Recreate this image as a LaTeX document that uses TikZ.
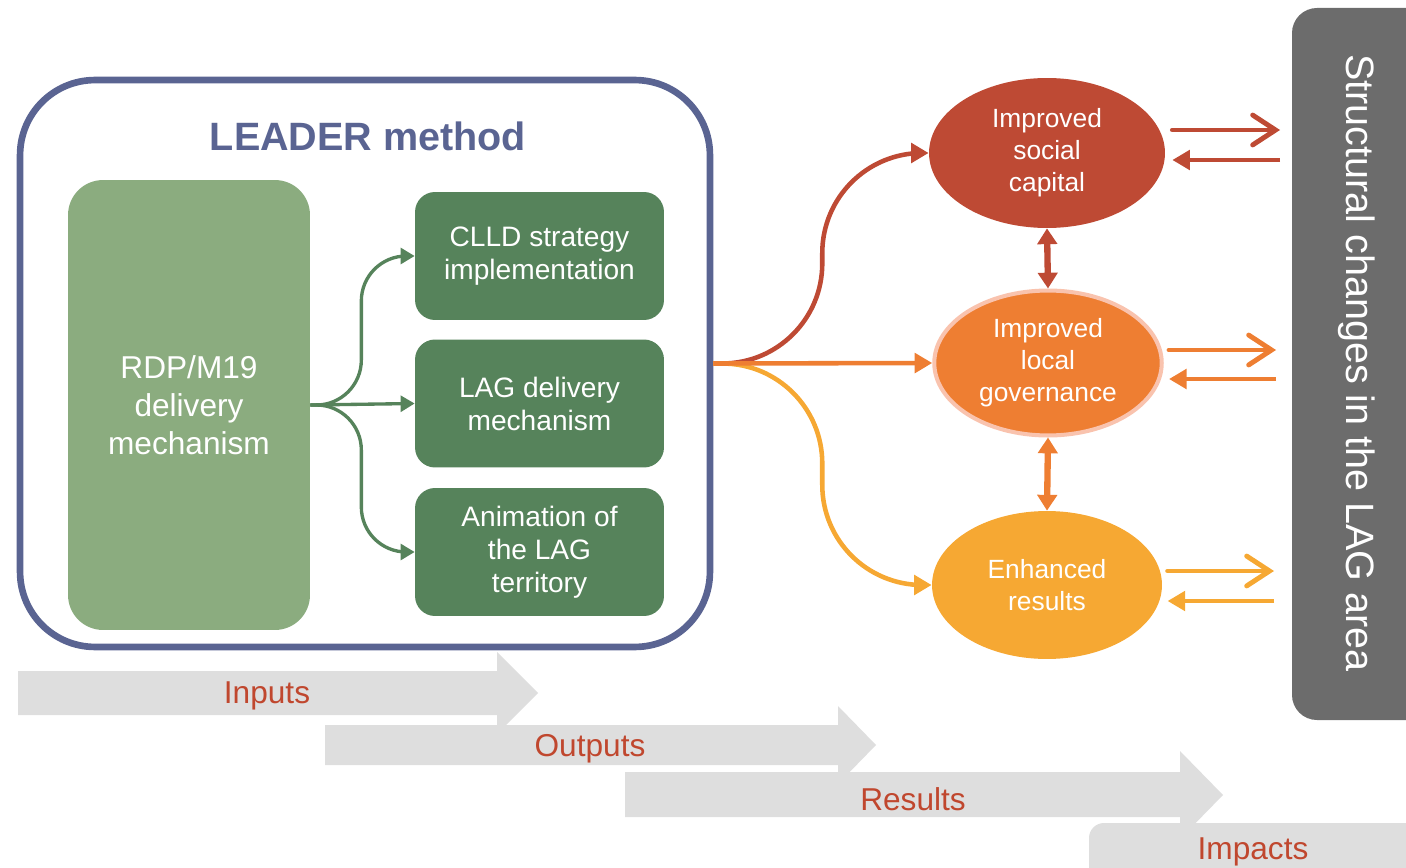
\documentclass[tikz,border=0pt]{standalone}
\usepackage{fontspec}
\setmainfont{Liberation Sans}
\usetikzlibrary{arrows.meta,shapes.geometric}

\definecolor{leaderblue}{HTML}{5A6492}
\definecolor{lightgreen}{HTML}{8BAC7F}
\definecolor{darkgreen}{HTML}{56835B}
\definecolor{redc}{HTML}{BE4A34}
\definecolor{orangec}{HTML}{EE7E32}
\definecolor{yellowc}{HTML}{F6A833}
\definecolor{pinkedge}{HTML}{F9C3AE}
\definecolor{bargray}{HTML}{6C6C6C}
\definecolor{bandgray}{HTML}{DEDEDE}
\definecolor{labelred}{HTML}{C0472E}

\begin{document}
\begin{tikzpicture}[x=0.02cm, y=-0.02cm, >=Triangle]

\tikzset{
  frame/.style={draw=leaderblue, line width=3.8pt, rounded corners=1.5cm,
    minimum width=13.8cm, minimum height=11.34cm},
  mainbox/.style={fill=lightgreen, rounded corners=0.7cm, text=white, align=center,
    minimum width=4.84cm, minimum height=9cm, font=\fontsize{18}{21.5}\selectfont},
  subbox/.style={fill=darkgreen, rounded corners=0.4cm, text=white, align=center,
    minimum width=4.98cm, minimum height=2.56cm, font=\fontsize{16}{18.8}\selectfont},
  oval/.style={ellipse, inner sep=0pt, text=white, align=center,
    font=\fontsize{15}{18.2}\selectfont},
  garr/.style={draw=darkgreen, line width=1.9pt, rounded corners=0.9cm,
    arrows={-Triangle[length=8pt, width=9pt]}},
  arr/.style={line width=2.6pt, rounded corners=2cm,
    arrows={-Triangle[length=10pt, width=11pt]}},
  biarr/.style={line width=3.6pt, arrows={Triangle[length=9pt, width=11pt]-Triangle[length=9pt, width=11pt]}},
  outarr/.style={line width=2.8pt, line cap=round,
    arrows={-Straight Barb[length=13pt, width=17pt, line cap=round]}},
  inarr/.style={line width=2.8pt, arrows={-Triangle[length=10pt, width=11pt]}},
  bandlbl/.style={text=labelred, font=\fontsize{18}{21}\selectfont}
}

\useasboundingbox (0,0) rectangle (1406,868);

% --- Bandas de baixo (cadeia de resultados) ---
\fill[bandgray, rounded corners=0.3cm] (1089,823) rectangle (1460,900);
\fill[bandgray] (625,772) -- (1180,772) -- (1180,751) -- (1223,795) -- (1180,839) -- (1180,817) -- (625,817) -- cycle;
\fill[bandgray] (325,725) -- (838,725) -- (838,706) -- (876,745) -- (838,784) -- (838,765) -- (325,765) -- cycle;
\fill[bandgray] (18,671) -- (497,671) -- (497,652) -- (538,693) -- (497,734) -- (497,715) -- (18,715) -- cycle;

\node[bandlbl] (inputs) at (267,696) {Inputs};
\node[bandlbl] (outputs) at (590,749) {Outputs};
\node[bandlbl] (results) at (913,799) {Results};
\node[bandlbl] (impacts) at (1253,852) {Impacts};

% --- Barra da direita ---
\fill[bargray, rounded corners=0.5cm] (1292,8) rectangle (1460,720);
\node[rotate=-90, text=white, font=\fontsize{22.5}{26}\selectfont] (struct) at (1357,363)
  {Structural changes in the LAG area};

% --- Metodo LEADER ---
\node[frame] (leader) at (365,363.5) {};
\node[text=leaderblue, font=\fontsize{22.5}{26}\selectfont\bfseries] (title) at (368,136) {LEADER method};

\node[mainbox] (rdp) at (189,405) {RDP/M19\\delivery\\mechanism};

\node[subbox] (clld) at (539.5,256) {CLLD strategy\\implementation};
\node[subbox] (lagdm) at (539.5,403.5) {LAG delivery\\mechanism};
\node[subbox] (anim) at (539.5,552) {Animation of\\the LAG\\territory};

\draw[garr] (rdp.east) -- ++(51,0) |- (clld.west);
\draw[garr] (rdp.east) -- (lagdm.west);
\draw[garr] (rdp.east) -- ++(51,0) |- (anim.west);

% --- Elipses (efeitos) ---
\node[oval, fill=redc, minimum width=4.72cm, minimum height=3cm] (social) at (1047,153)
  {Improved\\social\\capital};
\node[oval, fill=orangec, draw=pinkedge, line width=2.3pt, minimum width=4.55cm, minimum height=2.9cm]
  (gov) at (1048,363) {Improved\\local\\governance};
\node[oval, fill=yellowc, minimum width=4.6cm, minimum height=2.96cm] (enh) at (1047,585)
  {Enhanced\\results};

% --- Setas do quadro para as elipses ---
\draw[arr, redc] (leader.east) -- ++(109,0) |- (social.west);
\draw[arr, yellowc] (leader.east) -- ++(109,0) |- (enh.west);
\draw[arr, orangec] (leader.east) -- (gov.west);

\draw[biarr, redc] (social.south) -- (gov.north);
\draw[biarr, orangec] (gov.south) -- (enh.north);

% --- Setas para a barra ---
\coordinate (so) at (1280,130);
\coordinate (si) at (1280,160);
\coordinate (go) at (1276,350);
\coordinate (gi) at (1276,379);
\coordinate (eo) at (1274,571);
\coordinate (ei) at (1274,601);

\draw[outarr, redc, shorten <=4pt] (social.east |- so) -- (so);
\draw[inarr, redc, shorten >=4pt] (si) -- (social.east |- si);
\draw[outarr, orangec, shorten <=3pt] (gov.east |- go) -- (go);
\draw[inarr, orangec, shorten >=3pt] (gi) -- (gov.east |- gi);
\draw[outarr, yellowc, shorten <=3pt] (enh.east |- eo) -- (eo);
\draw[inarr, yellowc, shorten >=3pt] (ei) -- (enh.east |- ei);

\end{tikzpicture}
\end{document}
